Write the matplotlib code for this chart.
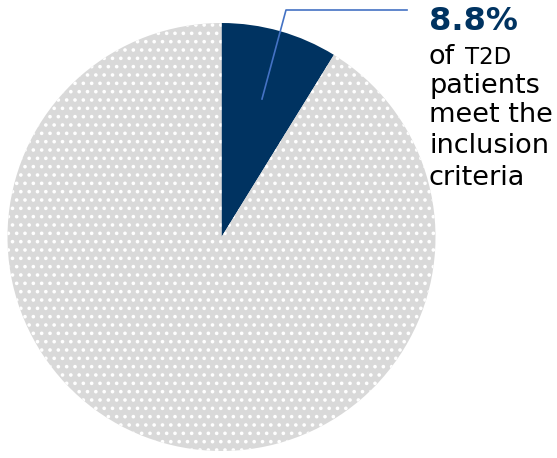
import matplotlib
matplotlib.use("Agg")
import matplotlib.pyplot as plt

values = [8.8, 91.2]
slice_colors = ["#003361", "#d9d9d9"]
headline = "8.8%"
first_line = ["of", "T2D"]
body_lines = ["patients", "meet the", "inclusion", "criteria"]

plt.rcParams['font.family'] = ['DejaVu Sans']
plt.rcParams['hatch.color'] = 'white'
plt.rcParams['hatch.linewidth'] = 1.4

W, H = 557, 458
fig = plt.figure(figsize=(W / 100, H / 100), dpi=100)
ax = fig.add_axes([0, 0, 1, 1])
ax.set_xlim(0, W)
ax.set_ylim(H, 0)
ax.axis('off')

cx, cy, r = 221.5, 237, 214
pax = fig.add_axes([(cx - r) / W, (H - cy - r) / H, 2 * r / W, 2 * r / H])
wedges, _ = pax.pie(values, colors=slice_colors, startangle=90, counterclock=False,
                    wedgeprops=dict(linewidth=0))
wedges[1].set_hatch('..')
wedges[1].set_edgecolor('white')
wedges[1].set_linewidth(0)
pax.set_xlim(-1, 1)
pax.set_ylim(-1, 1)
pax.set_aspect('equal')
pax.axis('off')

ax.set_zorder(2)
ax.plot([262, 286, 407], [99, 10, 10], color="#4472c4", linewidth=1.2, zorder=5)

ax.text(429, 29.5, headline, fontsize=23, fontweight='bold', color="#003361",
        ha='left', va='baseline')
ax.text(429, 64, first_line[0], fontsize=19.5, color="black", ha='left', va='baseline')
ax.text(465, 64, first_line[1], fontsize=16.5, color="black", ha='left', va='baseline')
baselines = [93, 122, 153, 185]
for line, yb in zip(body_lines, baselines):
    ax.text(429, yb, line, fontsize=19.5, color="black", ha='left', va='baseline')

fig.savefig("out.png", dpi=100)
